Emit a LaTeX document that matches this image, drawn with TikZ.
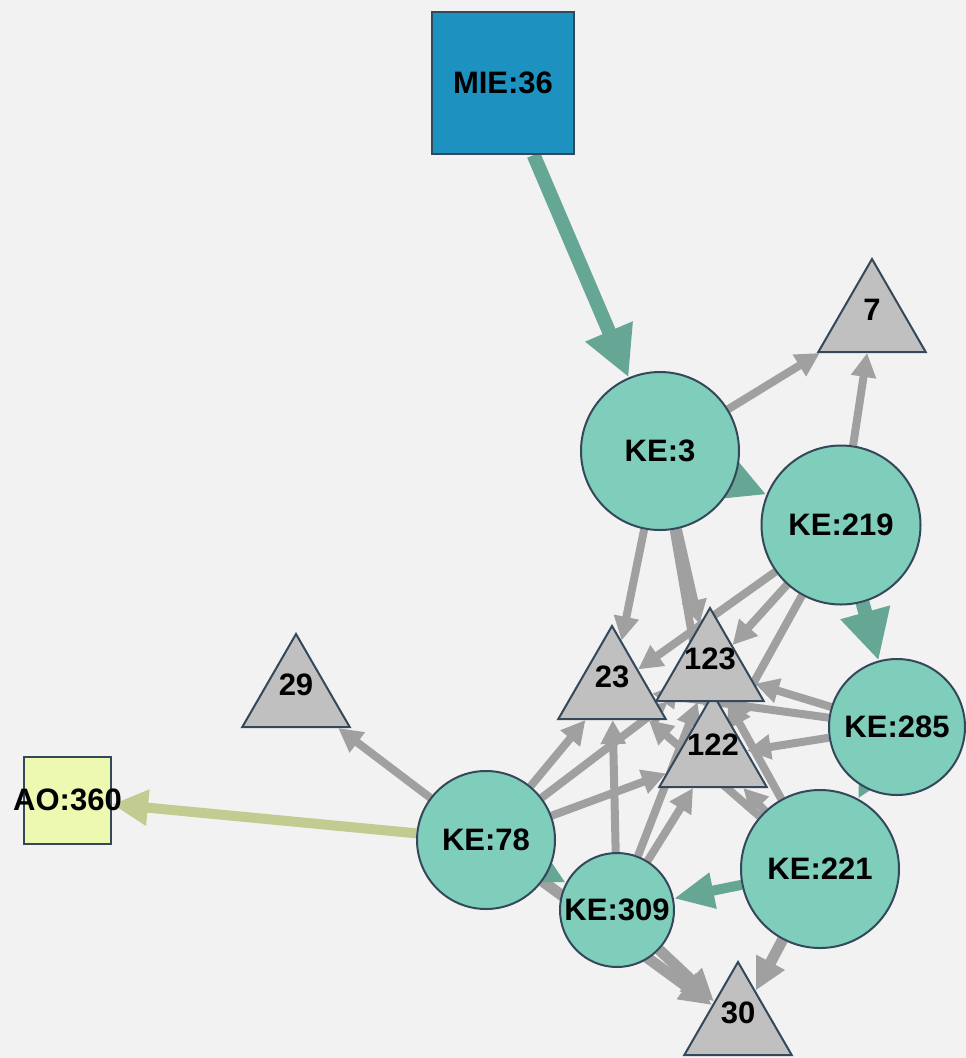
\documentclass[tikz,border=0pt]{standalone}
\usepackage{fontspec}
\setmainfont{Liberation Sans}
\usetikzlibrary{arrows.meta,shapes.geometric}
\pgfdeclarelayer{back}
\pgfdeclarelayer{bg}
\pgfsetlayers{back,bg,main}
\definecolor{bgc}{HTML}{F2F2F2}
\definecolor{bord}{HTML}{34485A}
\definecolor{kefill}{HTML}{7FCDBB}
\definecolor{trifill}{HTML}{C0C0C0}
\definecolor{miefill}{HTML}{1D91C0}
\definecolor{aofill}{HTML}{EDF8B1}
\definecolor{tealedge}{HTML}{66A694}
\definecolor{greyedge}{HTML}{A0A0A0}
\definecolor{aoedge}{HTML}{C2CC90}
\newcommand\lbl[1]{\makebox[0pt]{#1}}
\begin{document}
\begin{tikzpicture}[x=1pt,y=-1pt,
  every node/.style={font=\fontsize{31}{31}\selectfont\bfseries, text=black},
  ke/.style={circle, draw=bord, line width=2pt, fill=kefill, inner sep=0pt},
  tri/.style={regular polygon, regular polygon sides=3, draw=bord, line width=2pt, fill=trifill, minimum size=124pt, inner sep=0pt},
  sq/.style={rectangle, draw=bord, line width=2pt, inner sep=0pt},
  greyE/.style={draw=greyedge, line width=8pt, -{Triangle[length=24pt,width=24pt]}},
  greyT/.style={draw=greyedge, line width=11pt, -{Triangle[length=32pt,width=30pt]}},
  tealE/.style={draw=tealedge, line width=14pt, -{Triangle[length=50pt,width=48pt]}},
  tealS/.style={draw=tealedge, line width=10pt, -{Triangle[length=40pt,width=34pt]}},
  aoE/.style={draw=aoedge, line width=10pt, -{Triangle[length=36pt,width=34pt]}}
]
\begin{pgfonlayer}{back}
\fill[bgc] (0,0) rectangle (966,1058);
\end{pgfonlayer}
\useasboundingbox (0,0) rectangle (966,1058);

% triangles
\node[tri, label={[name=l7, yshift=11pt]center:7}] (t7) at (872,321) {};
\node[tri, label={[name=l29, yshift=11pt]center:29}] (t29) at (296,696) {};
\node[tri, label={[name=l30, yshift=11pt]center:30}] (t30) at (738,1024) {};
\node[tri, label={[name=l23, yshift=11pt]center:23}] (t23) at (612,688) {};
\node[tri, label={[name=l122, yshift=11pt]center:122}] (t122) at (713,756) {};
\node[tri, label={[name=l123, yshift=11pt]center:123}] (t123) at (710,670) {};

% circles
\node[ke, minimum size=158pt] (k3) at (660,451) {\lbl{KE:3}};
\node[ke, minimum size=159pt] (k219) at (841,525) {\lbl{KE:219}};
\node[ke, minimum size=136pt] (k285) at (897,727) {\lbl{KE:285}};
\node[ke, minimum size=158pt] (k221) at (820,869) {\lbl{KE:221}};
\node[ke, minimum size=138pt] (k78) at (486,840) {\lbl{KE:78}};
\node[ke, minimum size=114pt] (k309) at (617,910) {\lbl{KE:309}};

% squares
\node[sq, fill=miefill, minimum size=142pt] (mie) at (503,83) {\lbl{MIE:36}};
\node[sq, fill=aofill, minimum size=87pt] (ao) at (67.5,800) {\lbl{AO:360}};

\begin{pgfonlayer}{bg}
% grey edges
\draw[greyE] (k3) -- (t7);
\draw[greyE] (k219) -- (t7);
\draw[greyE] (k78) -- (t29);
\draw[greyE] (k3) -- (t23);
\draw[greyE] (k3) -- (t123);
\draw[greyE] (k3) -- (t122);
\draw[greyE] (k219) -- (t23);
\draw[greyE] (k219) -- (t123);
\draw[greyE] (k219) -- (t122);
\draw[greyE] (k285) -- (t23);
\draw[greyE] (k285) -- (t123);
\draw[greyE] (k285) -- (t122);
\draw[greyE] (k78) -- (t23);
\draw[greyE] (k78) -- (t123);
\draw[greyE] (k78) -- (t122);
\draw[greyE] (k309) -- (t23);
\draw[greyE] (k309) -- (t123);
\draw[greyE] (k309) -- (t122);
\draw[greyE] (k221) -- (t23);
\draw[greyE] (k221) -- (t123);
\draw[greyE] (k221) -- (t122);
\draw[greyT] (k78) -- (t30);
\draw[greyT] (k309) -- (t30);
\draw[greyT] (k221) -- (t30);
% teal edges
\draw[tealE] (mie) -- (k3);
\draw[tealE] (k3) -- (k219);
\draw[tealE] (k219) -- (k285);
\draw[tealE, line width=12pt] (k285) -- (k221);
\draw[tealS] (k221) -- (k309);
\draw[tealE, line width=12pt] (k78) -- (k309);
% adverse outcome edge
\draw[aoE] (k78) -- (ao);
\end{pgfonlayer}
\end{tikzpicture}
\end{document}
